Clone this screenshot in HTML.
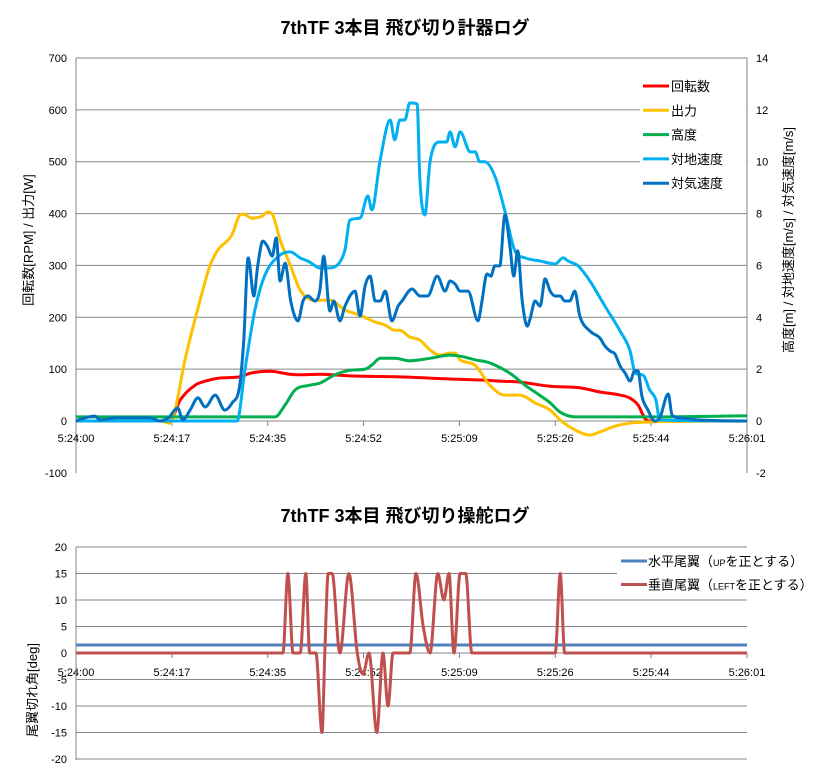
<!DOCTYPE html>
<html><head><meta charset="utf-8"><style>
body{margin:0;background:#fff;}
svg text{font-family:"Liberation Sans","Noto Sans CJK JP",sans-serif;}
</style></head><body>
<svg id="c" width="814" height="776" xmlns="http://www.w3.org/2000/svg">
<rect width="814" height="776" fill="#fff"/>
<text x="405" y="34" text-anchor="middle" font-size="18" font-weight="bold">7thTF 3本目 飛び切り計器ログ</text>
<text x="405" y="522" text-anchor="middle" font-size="18" font-weight="bold">7thTF 3本目 飛び切り操舵ログ</text>
<text transform="translate(33,240) rotate(-90)" text-anchor="middle" font-size="13">回転数[RPM] / 出力[W]</text>
<text transform="translate(793,240) rotate(-90)" text-anchor="middle" font-size="13">高度[m] / 対地速度[m/s] / 対気速度[m/s]</text>
<text transform="translate(37,690) rotate(-90)" text-anchor="middle" font-size="13">尾翼切れ角[deg]</text>
<g id="g"></g>
</svg>
<script>
const xTickLabels=["5:24:00","5:24:17","5:24:35","5:24:52","5:25:09","5:25:26","5:25:44","5:26:01"];
const leftTicks=[-100,0,100,200,300,400,500,600,700];
const rightTicks=[-2,0,2,4,6,8,10,12,14];
const bottomTicks=[-20,-15,-10,-5,0,5,10,15,20];
const rpmT=[0,16.8,18.6,21.3,23.9,25.8,29.3,31.1,34.7,38.3,40.1,43.6,49,57.9,66.9,72.2,75.8,79.4,84.8,90.1,93.7,97.3,99.1,100.5,101.8,102.6,120];
const rpmV=[0,0,40,69,79,83,85,92,96,90,89,90,87,85,81,79,77,75,67,64,56,50,44,31,4,0,0];
const powT=[0,15,16.8,17.7,19.5,22.2,24,25.4,27.9,29.3,29.9,31.5,33.3,34.3,35.1,36.5,38.3,40.1,42.7,45.4,48.1,50.8,53.5,55.3,57,57.9,59.7,61.5,63.3,65.1,66.9,67.8,68.7,71.3,74,76.7,79.4,82.1,84.8,86.6,89.2,91.9,93.7,96.4,99.1,102.6,120];
const powV=[0,0,-4,21,118,233,301,330,359,397,399,391,395,403,399,349,301,252,233,233,214,204,191,185,175,175,162,156,137,127,131,131,118,108,69,50,50,35,21,2,-17,-27,-21,-10,-4,-2,0];
const altT=[0,29.3,35.6,37.4,39.2,41.8,43.6,46.3,49,51.7,52.9,54.4,57,59.7,63.3,66.9,68.7,71.4,74,76.7,78.5,80.3,82.9,84.8,86.6,89.2,102.6,120];
const altV=[0.16,0.16,0.16,0.62,1.2,1.38,1.46,1.78,1.96,2,2.16,2.42,2.42,2.32,2.42,2.54,2.5,2.36,2.24,1.96,1.7,1.38,1,0.7,0.34,0.16,0.16,0.2];
const gndT=[0,28.8,30.2,32,33.8,36.5,38.3,40.1,41.8,43.6,45.4,47.2,48.1,49,50.8,52.2,52.9,54.4,56.2,57,57.9,58.8,59.7,61,61.5,62.4,63.3,65.1,66.3,66.9,67.8,68.7,70.5,71.4,72.2,73.1,74.9,76.7,78.5,80.3,83,85.7,87.1,88,89.8,91.9,94.6,97.3,99.1,100,101.4,102.6,103.7,104.4,120];
const gndV=[0,0,1.97,4.28,5.63,6.4,6.52,6.29,6.13,5.9,5.9,6.13,6.6,7.75,7.83,8.68,8.14,10.07,11.61,10.84,11.61,11.61,12.27,12.23,9.3,7.95,9.99,10.76,10.76,11.15,10.57,11.15,10.38,10.38,10,10,9.45,8.1,6.56,6.29,6.17,6.06,6.29,6.17,5.98,5.4,4.43,3.47,2.7,1.85,1.77,1.19,0.81,0.04,0];
const airT=[0,1.6,3.4,4.3,7,13.2,15,16.5,18.2,19.1,20.4,21.8,23.1,24.9,26.6,27.9,29.3,30,30.8,31.8,32.5,33.4,34.2,35.1,35.8,36.5,37.4,38.4,39.7,40.6,41.5,42.7,43.6,44.3,45.4,46.1,47.2,48.1,49.9,50.8,51.7,52.6,53.5,54.4,55.3,56.5,57.6,58.3,60.1,61.5,62.9,64.6,66,66.9,67.8,68.7,70.1,71.9,72.6,73.5,74.2,74.9,75.8,76.7,77.6,78.3,79,79.8,80.7,81.2,82.1,83,83.9,84.8,85.7,86.6,87.4,88.3,89.2,90.1,91.9,93.7,94.6,95.5,96.4,97.3,98.2,99.1,99.9,100.5,101.2,102.3,103.5,104.4,105.9,106.6,108,111.6,120];
const airV=[0,0.12,0.19,0.04,0.12,0.12,0,0.12,0.5,0.04,0.42,0.89,0.54,1,0.42,0.69,1.39,3.12,6.29,4.82,5.98,6.94,6.75,6.36,7.06,5.4,6.09,4.63,3.86,4.63,4.82,4.63,5.01,6.36,4.24,4.63,3.86,4.43,5.01,4.05,5.21,5.59,4.63,4.63,5.01,3.86,4.43,4.63,5.09,4.82,4.82,5.59,5.01,5.4,5.28,5.01,5.01,3.86,4.63,5.67,5.59,5.98,5.98,7.95,6.75,5.59,6.56,4.63,3.66,3.93,4.63,4.43,5.48,5.01,4.82,4.82,4.63,4.63,5.01,4.05,3.47,3.2,2.89,2.7,2.58,2.12,1.85,1.54,1.93,1.93,0.96,0.42,0,0.12,1.04,0.23,0.12,0.04,0];
const hT=[0,120];
const hV=[1.5,1.5];
const vT=[0,37,37.9,38.8,40.1,41.1,41.8,42.9,44,44.5,45.1,45.8,47.2,48.8,50.3,51.3,52.4,53.8,54.9,55.8,56.7,59.7,60.8,62.1,63.3,64.7,65.8,66.7,67.6,68.7,69.7,70.8,85.7,86.6,87.4,120];
const vV=[0,0,15,0,0,15,0,0,-15,0,15,15,0,15,0,-4,0,-15,0,-10,0,0,15,5,0,15,10,15,0,15,15,0,0,15,0,0];

const g=document.getElementById('g');
const NS='http://www.w3.org/2000/svg';
const X0=76,X1=747,TMAX=120;
const xs=t=>X0+(X1-X0)*t/TMAX;
const yL=v=>421-v*(421-58)/700;
const yR=v=>421-v*(421-58)/14;
const yB=v=>653-v*(653-547)/20;
function mk(tag,a){const e=document.createElementNS(NS,tag);for(const k in a)e.setAttribute(k,a[k]);g.appendChild(e);return e;}
function smooth(p){const n=p.length;const d=[],m=[];
 for(let i=0;i<n-1;i++){const dx=p[i+1][0]-p[i][0];d.push(dx>0?(p[i+1][1]-p[i][1])/dx:0);}
 m[0]=d[0];m[n-1]=d[n-2];
 for(let i=1;i<n-1;i++){if(d[i-1]*d[i]<=0)m[i]=0;else m[i]=(d[i-1]+d[i])/2;}
 for(let i=0;i<n-1;i++){if(d[i]===0){m[i]=0;m[i+1]=0;continue;}const a=m[i]/d[i],b=m[i+1]/d[i],s=a*a+b*b;if(s>9){const t=3/Math.sqrt(s);m[i]=t*a*d[i];m[i+1]=t*b*d[i];}}
 let s='M'+p[0][0].toFixed(1)+','+p[0][1].toFixed(1);
 for(let i=0;i<n-1;i++){const h=(p[i+1][0]-p[i][0])/3;
 s+=' C'+(p[i][0]+h).toFixed(1)+','+(p[i][1]+m[i]*h).toFixed(1)+' '+(p[i+1][0]-h).toFixed(1)+','+(p[i+1][1]-m[i+1]*h).toFixed(1)+' '+p[i+1][0].toFixed(1)+','+p[i+1][1].toFixed(1);}
 return s;}
leftTicks.forEach(v=>{if(v>=0){const l=mk('line',{x1:X0,x2:X1,y1:yL(v),y2:yL(v),stroke:'#868686','stroke-width':1});

}
const t=mk('text',{x:67,y:yL(v)+4,'text-anchor':'end','font-size':11});t.textContent=v;

});
rightTicks.forEach(v=>{const t=mk('text',{x:756,y:yR(v)+4,'font-size':11});t.textContent=v;

});
mk('line',{x1:X0,x2:X0,y1:58,y2:473,stroke:'#868686'});
mk('line',{x1:X1,x2:X1,y1:58,y2:473,stroke:'#868686'});
xTickLabels.forEach((s,i)=>{const x=X0+(X1-X0)*i/7;mk('line',{x1:x,x2:x,y1:421,y2:426,stroke:'#868686'});
const t=mk('text',{x:x,y:442,'text-anchor':'middle','font-size':11});t.textContent=s;


mk('line',{x1:x,x2:x,y1:653,y2:658,stroke:'#868686'});
const b=mk('text',{x:x,y:676,'text-anchor':'middle','font-size':11});b.textContent=s;

});
bottomTicks.forEach(v=>{const l=mk('line',{x1:X0,x2:X1,y1:yB(v),y2:yB(v),stroke:'#868686'});


const t=mk('text',{x:67,y:yB(v)+4,'text-anchor':'end','font-size':11});t.textContent=v;

});
mk('line',{x1:X0,x2:X0,y1:547,y2:760,stroke:'#868686'});
function series(T,V,yf,col,name){const pts=T.map((t,i)=>[xs(t),yf(V[i])]);
const p=mk('path',{d:smooth(pts),fill:'none',stroke:col,'stroke-width':3,'stroke-linejoin':'round'});

}
series(rpmT,rpmV,yL,'#ff0000','rpm-line');
series(powT,powV,yL,'#ffc000','power-line');
series(altT,altV,yR,'#00b050','altitude-line');
series(gndT,gndV,yR,'#00b0f0','ground-speed-line');
series(airT,airV,yR,'#0070c0','air-speed-line');
series(hT,hV,yB,'#4f81bd','horizontal-tail-line');
series(vT,vV,yB,'#c0504d','vertical-tail-line');
mk('rect',{x:640,y:72,width:106,height:122,fill:'#fff'});
[['回転数','#ff0000'],['出力','#ffc000'],['高度','#00b050'],['対地速度','#00b0f0'],['対気速度','#0070c0']].forEach((e,i)=>{const y=86+i*24.3;
const l=mk('line',{x1:643,x2:669,y1:y,y2:y,stroke:e[1],'stroke-width':3});


const t=mk('text',{x:671,y:y+5,'font-size':13});t.textContent=e[0];

});
mk('rect',{x:617,y:548,width:133,height:46,fill:'#fff'});
[['水平尾翼（','UP','を正とする）','#4f81bd'],['垂直尾翼（','LEFT','を正とする）','#c0504d']].forEach((e,i)=>{const y=561+i*23.5;
const l=mk('line',{x1:621,x2:647,y1:y,y2:y,stroke:e[3],'stroke-width':3});


const t=mk('text',{x:648,y:y+5,'font-size':13});


t.innerHTML=e[0]+'<tspan font-size="9">'+e[1]+'</tspan>'+e[2];});
</script>
</body></html>
